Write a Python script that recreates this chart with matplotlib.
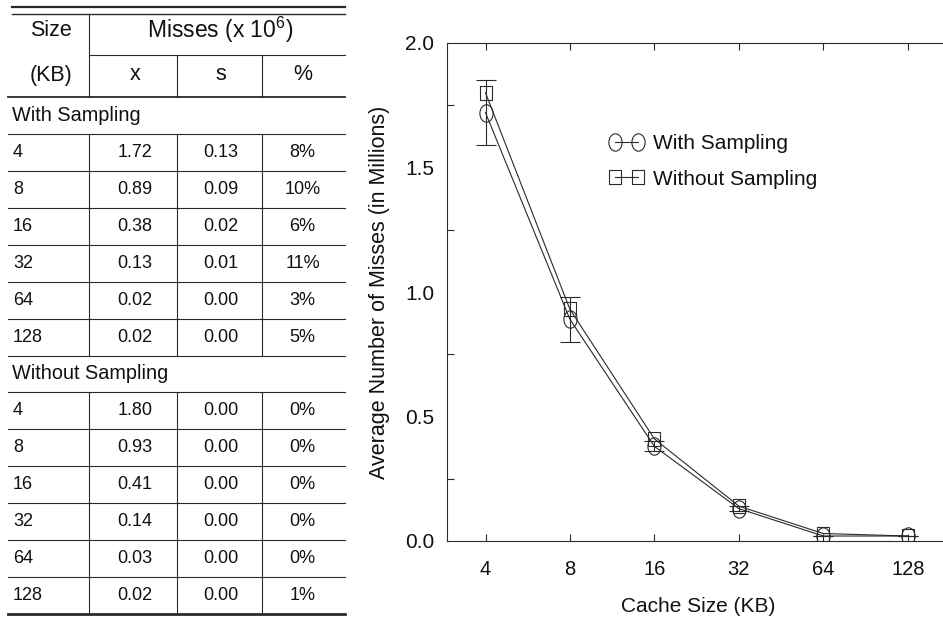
import matplotlib
matplotlib.use("Agg")
import matplotlib.pyplot as plt
import numpy as np
from matplotlib.path import Path
from matplotlib.ticker import FixedLocator

plt.rcParams['font.family'] = ['Liberation Sans', 'DejaVu Sans']
plt.rcParams['mathtext.fontset'] = 'custom'
plt.rcParams['mathtext.rm'] = 'Liberation Sans'
plt.rcParams['mathtext.it'] = 'Liberation Sans'

# ---------------- data ----------------
sizes = [4, 8, 16, 32, 64, 128]
with_x = [1.72, 0.89, 0.38, 0.13, 0.02, 0.02]
with_s = [0.13, 0.09, 0.02, 0.01, 0.00, 0.00]
with_pct = ['8%', '10%', '6%', '11%', '3%', '5%']
without_x = [1.80, 0.93, 0.41, 0.14, 0.03, 0.02]
without_s = [0.00, 0.00, 0.00, 0.00, 0.00, 0.00]
without_pct = ['0%', '0%', '0%', '0%', '0%', '1%']
section_labels = ['With Sampling', 'Without Sampling']
y_ticks = [0.0, 0.5, 1.0, 1.5, 2.0]

INK = '#111111'
LINE = '#2a2a2a'

fig = plt.figure(figsize=(9.43, 6.18), dpi=100)

# ---------------- table (pixel coordinate axes) ----------------
tab = fig.add_axes([0, 0, 1, 1])
tab.set_xlim(0, 943)
tab.set_ylim(618, 0)
tab.axis('off')

L, R = 8, 345
cols = [89, 177, 262]
col_centers = [(cols[0] + cols[1]) / 2 + 2, (cols[1] + cols[2]) / 2 + 1, (cols[2] + R) / 2 - 1]
y_head = 97
row_h = (614 - y_head) / 14.0

# top double rule
tab.plot([12, R], [7, 7], color=LINE, lw=1.6)
tab.plot([12, R], [14, 14], color=LINE, lw=1.0)
# header
tab.plot([cols[0], R], [55, 55], color=LINE, lw=0.8)
tab.plot([cols[0], cols[0]], [14, y_head], color=LINE, lw=0.8)
for cx in cols[1:]:
    tab.plot([cx, cx], [55, y_head], color=LINE, lw=0.8)
tab.plot([L, R], [y_head, y_head], color=LINE, lw=1.3)

tab.text(51, 31, 'Size', fontsize=15.5, ha='center', va='center', color=INK)
tab.text(51, 75, '(KB)', fontsize=15.5, ha='center', va='center', color=INK)
tab.text((cols[0] + R) / 2 + 3, 30, r'Misses (x 10$^{6}$)', fontsize=16.5,
         ha='center', va='center', color=INK)
for cc, lab in zip(col_centers, ['x', 's', '%']):
    tab.text(cc, 75, lab, fontsize=15.5, ha='center', va='center', color=INK)

sections = [(with_x, with_s, with_pct), (without_x, without_s, without_pct)]
k = 0
for si, (xs, ss, ps) in enumerate(sections):
    top = y_head + k * row_h
    tab.text(12, top + row_h / 2, section_labels[si], fontsize=14.3,
             ha='left', va='center', color=INK)
    k += 1
    tab.plot([L, R], [y_head + k * row_h] * 2, color=LINE, lw=0.8)
    for i in range(len(sizes)):
        top = y_head + k * row_h
        bot = top + row_h
        yc = top + row_h / 2
        tab.text(13, yc, str(sizes[i]), fontsize=13, ha='left', va='center', color=INK)
        tab.text(col_centers[0], yc, f'{xs[i]:.2f}', fontsize=13, ha='center', va='center', color=INK)
        tab.text(col_centers[1], yc, f'{ss[i]:.2f}', fontsize=13, ha='center', va='center', color=INK)
        tab.text(col_centers[2], yc, ps[i], fontsize=13, ha='center', va='center', color=INK)
        for cx in cols:
            tab.plot([cx, cx], [top, bot], color=LINE, lw=0.8)
        k += 1
        last = (si == 1 and i == len(sizes) - 1)
        tab.plot([L, R], [y_head + k * row_h] * 2, color=LINE, lw=2.0 if last else 0.8)

# ---------------- chart ----------------
ax_left = 447 / 943
ax_bottom = 1 - 541 / 618
ax_w = 503 / 943
ax_h = (541 - 43) / 618
ax = fig.add_axes([ax_left, ax_bottom, ax_w, ax_h])

xpos = np.arange(len(sizes))

circ = Path.unit_circle()
ellipse = Path(circ.vertices * np.array([0.76, 1.0]), circ.codes)
rect = Path([(-0.43, -0.5), (0.43, -0.5), (0.43, 0.5), (-0.43, 0.5), (-0.43, -0.5)],
            [Path.MOVETO, Path.LINETO, Path.LINETO, Path.LINETO, Path.CLOSEPOLY])

ax.plot(xpos, with_x, color=LINE, lw=0.8, marker=ellipse, markersize=12.5,
        markerfacecolor='none', markeredgecolor=LINE, markeredgewidth=0.8,
        label='With Sampling')
ax.plot(xpos, without_x, color=LINE, lw=0.8, marker=rect, markersize=10.5,
        markerfacecolor='none', markeredgecolor=LINE, markeredgewidth=0.8,
        label='Without Sampling')
ax.errorbar(xpos, with_x, yerr=with_s, fmt='none', ecolor=LINE, elinewidth=0.8,
            capsize=7, capthick=0.8)

ax.set_xlim(-0.456, 5.5)
ax.set_ylim(0, 2.0)
ax.set_xticks(xpos)
ax.set_xticklabels([str(s) for s in sizes])
ax.set_yticks(y_ticks)
ax.set_yticklabels([f'{v:.1f}' for v in y_ticks])
ax.yaxis.set_minor_locator(FixedLocator([0.25, 0.75, 1.25, 1.75]))

for sp in ax.spines.values():
    sp.set_linewidth(0.8)
    sp.set_color(LINE)

ax.tick_params(axis='x', which='major', direction='in', top=True, bottom=True,
               length=5, width=0.8, color=LINE, labelsize=14.5, pad=13.5, labelcolor=INK)
ax.tick_params(axis='y', which='major', direction='in', left=True, right=True,
               length=0, labelsize=15, pad=9, labelcolor=INK)
ax.tick_params(axis='y', which='minor', direction='in', left=True, right=True,
               length=5, width=0.8, color=LINE)

ax.set_xlabel('Cache Size (KB)', fontsize=15, labelpad=13, color=INK)
ax.set_ylabel('Average Number of Misses (in Millions)', fontsize=15.5, labelpad=11, color=INK)

leg = ax.legend(loc='upper left', bbox_to_anchor=(609 / 943, 1 - 134 / 618),
                bbox_transform=fig.transFigure, frameon=False, fontsize=15,
                numpoints=2, handlelength=1.7, handletextpad=0.42,
                labelspacing=0.8, borderpad=0, borderaxespad=0)
for t in leg.get_texts():
    t.set_color(INK)

fig.savefig('out.png', dpi=100)
